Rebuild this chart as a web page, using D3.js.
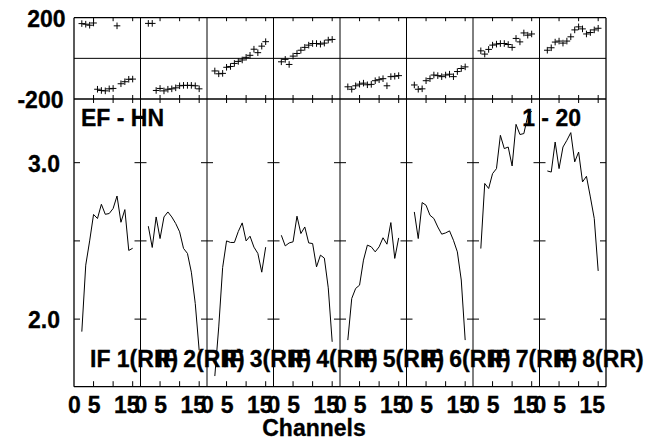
<!DOCTYPE html>
<html><head><meta charset="utf-8">
<script src="https://cdn.jsdelivr.net/npm/d3@7"></script>
<style>
html,body{margin:0;padding:0;background:#fff;}
text{font-family:"Liberation Sans",Arial,sans-serif;font-weight:bold;fill:#000;stroke:#000;stroke-width:0.3px;}
</style></head>
<body><svg id="c" width="647" height="440"></svg>
<script>
// ---- data ----
const channels = [2,3,4,5,6,7,8,9,10,11,12,13,14,15];
const ifLabels = ["IF 1(RR)","IF 2(RR)","IF 3(RR)","IF 4(RR)","IF 5(RR)","IF 6(RR)","IF 7(RR)","IF 8(RR)"];
const phase1 = [171,168,163,174,-152,-158,-160,-150,-148,160,-125,-115,-103,-102];
const phase2 = [172,172,-158,-148,-160,-152,-150,-145,-135,-133,-133,-133,-135,-150];
const phase3 = [-62,-76,-74,-44,-40,-25,-15,-8,5,15,45,28,60,82];
const phase4 = [-17,-5,-30,11,24,40,54,65,73,73,70,75,90,93];
const phase5 = [-140,-152,-135,-127,-122,-130,-128,-110,-105,-100,-135,-90,-88,-85];
const phase6 = [-131,-152,-150,-110,-100,-82,-85,-90,-82,-78,-90,-65,-50,-42];
const phase7 = [37,21,44,65,70,73,73,68,54,98,81,125,114,120];
const phase8 = [40,52,80,85,75,85,106,140,155,145,120,127,140,148];
const amp1 = [1.92,2.345,2.50,2.669,2.643,2.734,2.670,2.675,2.707,2.787,2.619,2.700,2.439,2.453];
const amp2 = [2.594,2.458,2.653,2.515,2.653,2.685,2.653,2.611,2.558,2.452,2.420,2.30,2.10,1.80];
const amp3 = [1.636,1.95,2.33,2.50,2.49,2.49,2.56,2.615,2.50,2.53,2.46,2.42,2.30,2.46];
const amp4 = [2.536,2.468,2.487,2.494,2.658,2.547,2.589,2.487,2.483,2.334,2.409,2.39,2.20,1.855];
const amp5 = [1.866,2.132,2.196,2.217,2.377,2.473,2.462,2.43,2.462,2.52,2.479,2.617,2.388,2.519];
const amp6 = [2.685,2.515,2.745,2.728,2.664,2.643,2.589,2.543,2.551,2.564,2.504,2.43,2.25,1.866];
const amp7 = [2.451,2.867,2.835,2.93,2.962,3.175,3.09,3.10,2.979,3.245,3.18,3.186,3.30,3.33];
const amp8 = [2.947,2.94,3.132,2.962,3.10,3.143,3.192,3.005,3.068,2.877,2.913,2.781,2.643,2.308];
const phaseTicks = [-200, 200];
const ampTicks = [2.0, 2.5, 3.0];
const ampTickLabels = ["2.0", "", "3.0"];
const chanTicks = [0, 5, 10, 15];
const chanTickLabels = ["0", "5", "", "15"];
const titleLeft = "EF - HN";
const titleRight = "1 - 20";
const xTitle = "Channels";

const phases = [phase1,phase2,phase3,phase4,phase5,phase6,phase7,phase8];
const amps = [amp1,amp2,amp3,amp4,amp5,amp6,amp7,amp8];

// ---- layout ----
const L = 74, R = 606, T = 17.7, MID = 99, B = 386.7;
const nP = 8, pw = (R - L) / nP;
const svg = d3.select("#c");
svg.append("rect").attr("width",647).attr("height",440).attr("fill","#fff");

const yP = d3.scaleLinear().domain([-200,200]).range([MID, T]);
const yA = d3.scaleLinear().domain([1.568,3.407]).range([B, MID]);
const panelX = i => d3.scaleLinear().domain([0,17]).range([L + i*pw, L + (i+1)*pw]);

const g = svg.append("g");
const ln = (x1,y1,x2,y2,w) => g.append("line").attr("x1",x1).attr("y1",y1).attr("x2",x2).attr("y2",y2)
  .attr("stroke","#000").attr("stroke-width",w||1);

// frame
ln(L, T, R, T, 1.3); ln(L, B, R, B, 1.3); ln(L, MID, R, MID, 1.3);
ln(L, yP(0), R, yP(0), 1);
for (let i = 0; i <= nP; i++) ln(L + i*pw, T, L + i*pw, B, i===0||i===nP ? 1.3 : 1);

// ticks
for (let i = 0; i < nP; i++) {
  const x = panelX(i);
  chanTicks.forEach(c => {
    if (c === 0) return;
    const xx = x(c);
    ln(xx, T, xx, T + 3.5);
    ln(xx, MID - 4, xx, MID + 4);
    ln(xx, B - 5.5, xx, B);
  });
}
for (let i = 0; i <= nP; i++) {
  const xx = L + i*pw;
  ampTicks.forEach(a => {
    const yy = yA(a);
    ln(i===0 ? xx : xx - 6, yy, i===nP ? xx : xx + 6, yy);
  });
}

// data
const line = d3.line();
for (let i = 0; i < nP; i++) {
  const x = panelX(i);
  g.append("path").attr("d", line(channels.map((c,k) => [x(c), yA(amps[i][k])])))
    .attr("fill","none").attr("stroke","#000").attr("stroke-width",1);
  channels.forEach((c,k) => {
    const cx = x(c), cy = yP(phases[i][k]), s = 3.3;
    ln(cx - s, cy, cx + s, cy);
    ln(cx, cy - s, cx, cy + s);
  });
}

// texts
const fs = 23;
const txt = (s,x,y,anchor) => svg.append("text").attr("x",x).attr("y",y).attr("text-anchor",anchor||"start")
  .attr("font-size",fs).text(s);
txt(String(phaseTicks[1]), 65.5, 27, "end");
txt(String(phaseTicks[0]), 63.5, 108.3, "end");
ampTicks.forEach((a,k) => { if (ampTickLabels[k]) txt(ampTickLabels[k], 60, yA(a) + 9, "end"); });
txt(titleLeft, 81, 126);
txt(titleRight, 581, 126, "end");
for (let i = 0; i < nP; i++) {
  const x = panelX(i);
  txt(ifLabels[i], L + i*pw + 16, 366.5);
  chanTicks.forEach((c,k) => {
    if (!chanTickLabels[k]) return;
    txt(chanTickLabels[k], x(c) + (c===15 ? -6 : 0.5), 413.3, "middle");
  });
}
txt(xTitle, 314, 436, "middle");
</script></body></html>
